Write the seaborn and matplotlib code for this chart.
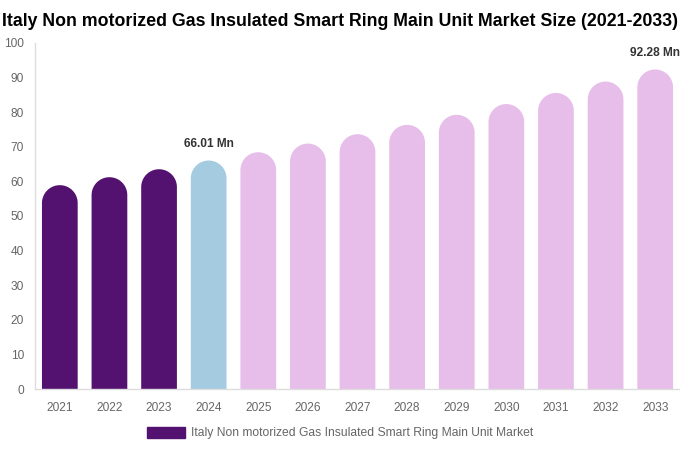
import numpy as np
import pandas as pd
import matplotlib
matplotlib.use('Agg')
import matplotlib.pyplot as plt
import seaborn as sns
from matplotlib.path import Path
from matplotlib.patches import PathPatch, Patch

years = [2021, 2022, 2023, 2024, 2025, 2026, 2027, 2028, 2029, 2030, 2031, 2032, 2033]
market_size = [58.9, 61.2, 63.5, 66.01, 68.4, 70.9, 73.6, 76.3, 79.2, 82.3, 85.5, 88.8, 92.28]
bar_colors = ['#541270'] * 3 + ['#a4cbdf'] + ['#e7bde9'] * 9
value_labels = {2024: '66.01 Mn', 2033: '92.28 Mn'}
series_name = 'Italy Non motorized Gas Insulated Smart Ring Main Unit Market'
title = 'Italy Non motorized Gas Insulated Smart Ring Main Unit Market Size (2021-2033)'

sns.set_style('white')
plt.rcParams['font.family'] = ['Liberation Sans', 'DejaVu Sans']

fig = plt.figure(figsize=(6.8, 4.5), dpi=100)
ax = fig.add_axes([0.0515, 0.135, 0.9485, 0.77])

df = pd.DataFrame({'year': [str(y) for y in years], 'size': market_size})
sns.barplot(data=df, x='year', y='size', hue='year', palette=bar_colors,
            legend=False, width=0.72, saturation=1, ax=ax)
ax.set_ylim(0, 100)
ax.set_xlim(-0.5, len(years) - 0.5)

# swap the flat bars for pill-topped ones
fig.canvas.draw()
bb = ax.get_window_extent()
xpx = bb.width / len(years)
ypx = bb.height / 100
for bar in list(ax.patches):
    x0, w, h = bar.get_x(), bar.get_width(), bar.get_height()
    rx = w / 2
    ry = rx * xpx / ypx
    t = np.linspace(np.pi, 0, 40)
    arc = np.column_stack([x0 + rx + rx * np.cos(t), h - ry + ry * np.sin(t)])
    verts = [(x0, 0), (x0, h - ry)] + arc.tolist() + [(x0 + w, 0), (x0, 0)]
    codes = [Path.MOVETO] + [Path.LINETO] * (len(verts) - 2) + [Path.CLOSEPOLY]
    ax.add_patch(PathPatch(Path(verts, codes), facecolor=bar.get_facecolor(),
                           edgecolor='none'))
    bar.remove()

for i, y in enumerate(years):
    if y in value_labels:
        ax.text(i, market_size[i] + 4.9, value_labels[y], ha='center', va='center',
                fontsize=8.6, fontweight='bold', color='#333333')

ax.set_yticks(range(0, 101, 10))
ax.tick_params(axis='both', length=0, labelsize=8.6, labelcolor='#666666')
ax.tick_params(axis='x', pad=9)
ax.tick_params(axis='y', pad=8)
ax.set_xlabel('')
ax.set_ylabel('')
for s in ['top', 'right']:
    ax.spines[s].set_visible(False)
for s in ['left', 'bottom']:
    ax.spines[s].set_color('#dddddd')
    ax.spines[s].set_linewidth(1)

fig.text(0.5, 0.953, title, ha='center', va='center', fontsize=12.8,
         fontweight='bold', color='black')

fig.legend(handles=[Patch(color='#541270')], labels=[series_name],
           loc='center', bbox_to_anchor=(0.5, 1 - 433 / 450), frameon=False,
           handlelength=3.2, handleheight=1.0, handletextpad=0.5,
           fontsize=8.7, labelcolor='#666666')

fig.savefig('out.png', dpi=100)
